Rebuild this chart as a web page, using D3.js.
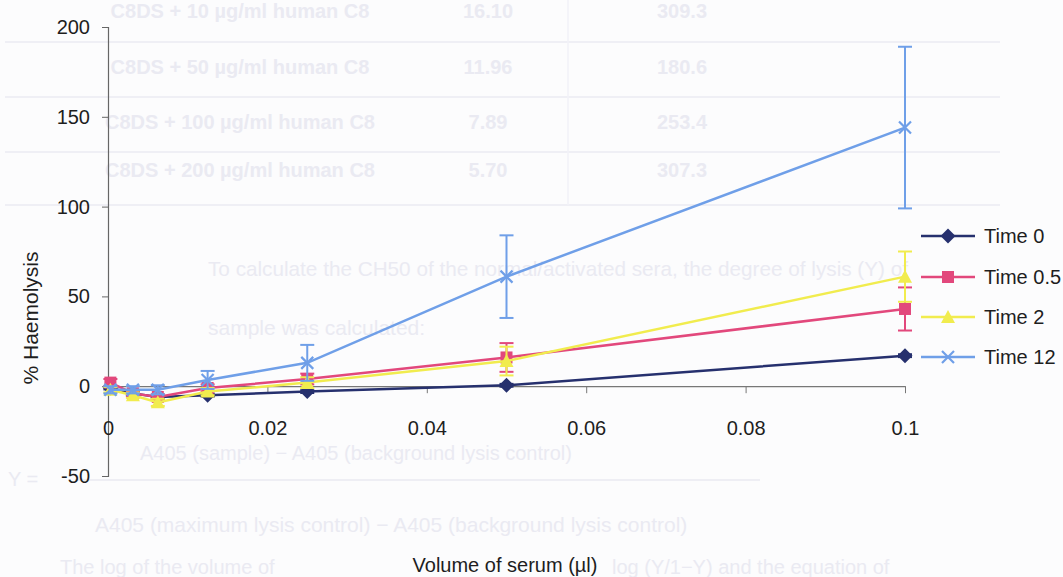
<!DOCTYPE html>
<html>
<head>
<meta charset="utf-8">
<script src="https://cdn.jsdelivr.net/npm/d3@7"></script>
<style>
  html, body { margin: 0; padding: 0; background: #fcfcfd; }
  svg { display: block; font-family: "Liberation Sans", Arial, sans-serif; }
</style>
</head>
<body>
<svg id="chart" width="1063" height="577"></svg>
<script>
// ---- data ----
const volumes = [0.0003, 0.003125, 0.00625, 0.0125, 0.025, 0.05, 0.1];
const seriesNames = ["Time 0", "Time 0.5", "Time 2", "Time 12"];
const time0 = [-1, -4, -6, -5, -3, 0.5, 17];
const time05 = [2, -4, -6, -1, 4, 16, 43];
const time2 = [-2, -5, -9, -3, 2, 14, 61];
const time12 = [-2, -2, -2, 3.5, 13, 61, 144];
const err0 = [0.8, 0.8, 0.8, 0.8, 0.8, 0.8, 0.8];
const err05 = [2, 1.5, 1.5, 2, 3, 8, 12];
const err2 = [1.5, 1.5, 2, 2, 3, 8, 14];
const err12 = [2, 2, 2.5, 5, 10, 23, 45];
const xTicks = [0, 0.02, 0.04, 0.06, 0.08, 0.1];
const xTickLabels = ["0", "0.02", "0.04", "0.06", "0.08", "0.1"];
const yTicks = [-50, 0, 50, 100, 150, 200];
const yTickLabels = ["-50", "0", "50", "100", "150", "200"];

// faint show-through text of the scanned page behind the chart
const ghostTable = [
  ["C8DS + 10 µg/ml human C8", "16.10", "309.3"],
  ["C8DS + 50 µg/ml human C8", "11.96", "180.6"],
  ["C8DS + 100 µg/ml human C8", "7.89", "253.4"],
  ["C8DS + 200 µg/ml human C8", "5.70", "307.3"]
];
const ghostLines = [
  "To calculate the CH50 of the normal/activated sera, the degree of lysis (Y) of",
  "sample was calculated:",
  "A405 (sample) − A405 (background lysis control)",
  "Y =",
  "A405 (maximum lysis control) − A405 (background lysis control)",
  "The log of the volume of",
  "log (Y/1−Y) and the equation of"
];

const series = [
  { name: seriesNames[0], values: time0, err: err0, color: "#26306e", marker: "diamond" },
  { name: seriesNames[1], values: time05, err: err05, color: "#e2487c", marker: "square" },
  { name: seriesNames[2], values: time2, err: err2, color: "#f1ec4e", marker: "triangle" },
  { name: seriesNames[3], values: time12, err: err12, color: "#6f9fe8", marker: "cross" }
];

const svg = d3.select("#chart");

// ---- ghost background ----
const ghostCol = "#eaeaf2";
const ghost = svg.append("g").attr("fill", ghostCol).attr("font-weight", "bold").attr("font-size", 20);
const rowY = [13, 69, 124, 172];
ghostTable.forEach((r, i) => {
  ghost.append("text").attr("x", 240).attr("y", rowY[i]).attr("text-anchor", "middle").attr("dominant-baseline", "middle").text(r[0]);
  ghost.append("text").attr("x", 488).attr("y", rowY[i]).attr("text-anchor", "middle").attr("dominant-baseline", "middle").text(r[1]);
  ghost.append("text").attr("x", 682).attr("y", rowY[i]).attr("text-anchor", "middle").attr("dominant-baseline", "middle").text(r[2]);
});
[42, 97, 152, 205].forEach(yy => {
  ghost.append("line").attr("x1", 5).attr("x2", 1000).attr("y1", yy).attr("y2", yy)
    .attr("stroke", "#efeff5").attr("stroke-width", 2);
});
ghost.append("line").attr("x1", 568).attr("x2", 568).attr("y1", 0).attr("y2", 205)
  .attr("stroke", "#f2f2f7").attr("stroke-width", 1.5);

const gt = svg.append("g").attr("fill", ghostCol).attr("font-size", 21);
gt.append("text").attr("x", 208).attr("y", 276).attr("textLength", 700).attr("lengthAdjust", "spacingAndGlyphs").text(ghostLines[0]);
gt.append("text").attr("x", 208).attr("y", 335).text(ghostLines[1]);
gt.append("text").attr("x", 140).attr("y", 460).attr("font-size", 20).text(ghostLines[2]);
gt.append("text").attr("x", 8).attr("y", 486).attr("font-size", 20).text(ghostLines[3]);
gt.append("line").attr("x1", 75).attr("x2", 760).attr("y1", 480).attr("y2", 480).attr("stroke", "#eeeef4").attr("stroke-width", 2);
gt.append("text").attr("x", 95).attr("y", 532).text(ghostLines[4]);
gt.append("text").attr("x", 60).attr("y", 574).attr("font-size", 20).text(ghostLines[5]);
gt.append("text").attr("x", 612).attr("y", 574).attr("font-size", 20).text(ghostLines[6]);

// ---- scales ----
const x = d3.scaleLinear().domain([0, 0.1]).range([108, 905]);
const y = d3.scaleLinear().domain([-50, 200]).range([476, 27]);

// ---- axes ----
const yAxis = d3.axisLeft(y).tickValues(yTicks).tickFormat((d, i) => yTickLabels[i]).tickSize(6).tickPadding(12);
const gy = svg.append("g").attr("transform", `translate(${x(0)},0)`).call(yAxis);
gy.select(".domain").attr("stroke", "#666").attr("stroke-width", 1.2);
gy.selectAll(".tick line").attr("stroke", "#666");
gy.selectAll(".tick text").attr("font-size", 20).attr("fill", "#1e1e1e")
  .attr("font-family", "'Liberation Sans', Arial, sans-serif");

const xAxis = d3.axisBottom(x).tickValues(xTicks).tickFormat((d, i) => xTickLabels[i]).tickSize(7).tickPadding(28).tickSizeOuter(0);
const gx = svg.append("g").attr("transform", `translate(0,${y(0)})`).call(xAxis);
gx.select(".domain").attr("stroke", "#777").attr("stroke-width", 1.2);
gx.selectAll(".tick line").attr("stroke", "#777");
gx.selectAll(".tick text").attr("font-size", 20).attr("fill", "#1e1e1e")
  .attr("font-family", "'Liberation Sans', Arial, sans-serif");

// axis titles
svg.append("text").attr("x", 505).attr("y", 572).attr("text-anchor", "middle")
  .attr("font-size", 20).attr("fill", "#1e1e1e").text("Volume of serum (µl)");
svg.append("text").attr("transform", "translate(38,318) rotate(-90)").attr("text-anchor", "middle")
  .attr("font-size", 21).attr("fill", "#1e1e1e").text("% Haemolysis");

// ---- markers ----
function drawMarker(g, type, cx, cy, color) {
  if (type === "diamond") {
    g.append("path").attr("d", `M${cx},${cy-7.5}L${cx+7.5},${cy}L${cx},${cy+7.5}L${cx-7.5},${cy}Z`).attr("fill", color);
  } else if (type === "square") {
    g.append("rect").attr("x", cx - 6).attr("y", cy - 6).attr("width", 12).attr("height", 12).attr("fill", color);
  } else if (type === "triangle") {
    g.append("path").attr("d", `M${cx},${cy-7}L${cx+7},${cy+6}L${cx-7},${cy+6}Z`).attr("fill", color);
  } else {
    g.append("path").attr("d", `M${cx-6},${cy-6}L${cx+6},${cy+6}M${cx-6},${cy+6}L${cx+6},${cy-6}`)
      .attr("stroke", color).attr("stroke-width", 2.2).attr("fill", "none");
  }
}

const line = d3.line().x((d, i) => x(volumes[i])).y(d => y(d));

series.forEach(s => {
  const g = svg.append("g");
  s.values.forEach((v, i) => {
    const cx = x(volumes[i]);
    const top = y(v + s.err[i]), bot = y(v - s.err[i]);
    g.append("line").attr("x1", cx).attr("x2", cx).attr("y1", top).attr("y2", bot)
      .attr("stroke", s.color).attr("stroke-width", 2);
    [top, bot].forEach(yy => g.append("line").attr("x1", cx - 7).attr("x2", cx + 7).attr("y1", yy).attr("y2", yy)
      .attr("stroke", s.color).attr("stroke-width", 2));
  });
  g.append("path").datum(s.values).attr("d", line).attr("fill", "none")
    .attr("stroke", s.color).attr("stroke-width", 2.5);
  s.values.forEach((v, i) => drawMarker(g, s.marker, x(volumes[i]), y(v), s.color));
});

// ---- legend ----
const legendY = [236, 277, 317, 357];
series.forEach((s, i) => {
  const g = svg.append("g");
  g.append("line").attr("x1", 921).attr("x2", 975).attr("y1", legendY[i]).attr("y2", legendY[i])
    .attr("stroke", s.color).attr("stroke-width", 2.5);
  drawMarker(g, s.marker, 948, legendY[i], s.color);
  g.append("text").attr("x", 984).attr("y", legendY[i]).attr("dominant-baseline", "central")
    .attr("font-size", 20).attr("fill", "#1e1e1e").text(s.name);
});
</script>
</body>
</html>
